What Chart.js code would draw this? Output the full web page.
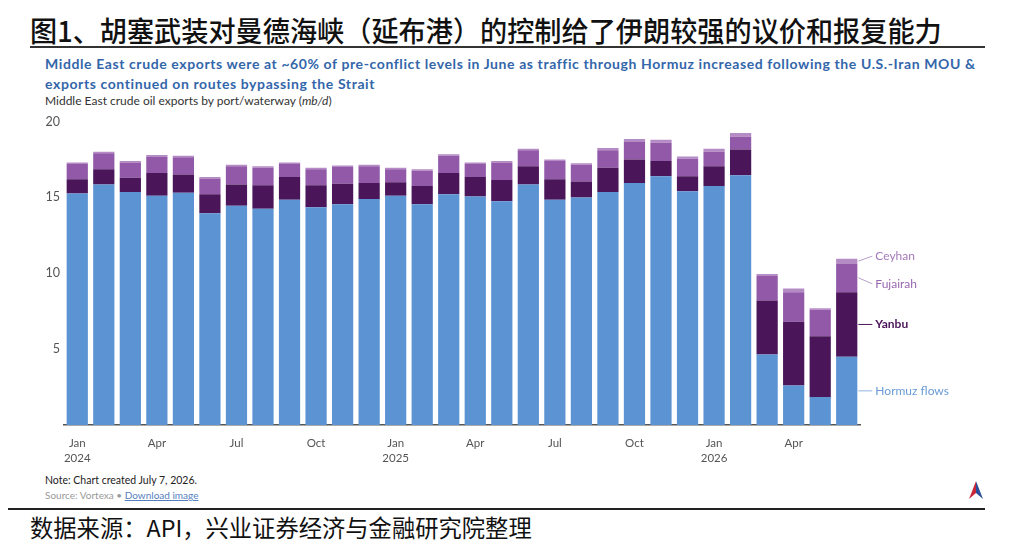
<!DOCTYPE html>
<html>
<head>
<meta charset="utf-8">
<script src="https://cdn.jsdelivr.net/npm/chart.js@4.4.1/dist/chart.umd.min.js"></script>
<style>
  html, body { margin:0; padding:0; background:#fff; }
  body { width:1024px; height:548px; position:relative; overflow:hidden; font-family: Lato, "Open Sans", sans-serif; }
  #title { position:absolute; left:30px; top:12px; font-family:"Noto Sans CJK SC"; font-size:28px; font-weight:500; color:#111; white-space:nowrap; line-height:36px; transform:scaleX(0.97); transform-origin:0 0; }
  #rule1 { position:absolute; left:30px; top:46px; width:955px; height:2px; background:#333; }
  #sub { position:absolute; left:45px; top:54px; font-family:Lato; font-weight:700; font-size:14px; letter-spacing:0.6px; line-height:20px; color:#3366AA; white-space:nowrap; }
  #ylab { position:absolute; left:45px; top:93px; font-family:Lato; font-size:12px; color:#333; white-space:nowrap; }
  #note { position:absolute; left:45px; top:474px; font-family:Lato; font-size:10.5px; color:#222; white-space:nowrap; }
  #src { position:absolute; left:45px; top:489px; font-family:Lato; font-size:10px; color:#999; white-space:nowrap; }
  #src a { color:#5580C0; text-decoration:underline; }
  #rule2 { position:absolute; left:8px; top:508px; width:977px; height:2px; background:#222; }
  #foot { position:absolute; left:30px; top:512px; font-family:"Noto Sans CJK SC"; font-size:23.3px; color:#111; white-space:nowrap; line-height:30px; }
  #wrap { position:absolute; left:20px; top:110px; width:960px; height:360px; }
  #logo { position:absolute; left:968px; top:480px; }
</style>
</head>
<body>
<div id="title">图1、胡塞武装对曼德海峡（延布港）的控制给了伊朗较强的议价和报复能力</div>
<div id="rule1"></div>
<div id="sub">Middle East crude exports were at ~60% of pre-conflict levels in June as traffic through Hormuz increased following the U.S.-Iran MOU &amp;<br>exports continued on routes bypassing the Strait</div>
<div id="ylab">Middle East crude oil exports by port/waterway (<i>mb/d</i>)</div>
<div id="wrap"><canvas id="c"></canvas></div>
<div id="note">Note: Chart created July 7, 2026.</div>
<div id="src">Source: Vortexa • <a>Download image</a></div>
<svg id="logo" width="16" height="20" viewBox="0 0 16 20"><polygon points="8,1 15,19 8,13" fill="#2A4E9A"/><polygon points="8,1 8,13 1,19" fill="#C8283A"/></svg>
<div id="rule2"></div>
<div id="foot">数据来源：API，兴业证券经济与金融研究院整理</div>
<script>
const months = ["Jan","Feb","Mar","Apr","May","Jun","Jul","Aug","Sep","Oct","Nov","Dec"];
const years = ["2024","2025","2026"];
const categories = [];
for (let y = 0; y < years.length; y++) for (let m = 0; m < 12; m++) if (!(y === 2 && m > 5)) categories.push(months[m] + " " + years[y]);

const hormuz   = [15.25,15.85,15.35,15.1,15.3,13.95,14.45,14.25,14.85,14.35,14.55,14.9,15.1,14.55,15.2,15.05,14.75,15.85,14.85,15.0,15.35,15.95,16.4,15.4,15.75,16.45,4.65,2.6,1.85,4.5];
const yanbu    = [0.95,1.0,0.95,1.5,1.2,1.25,1.4,1.55,1.5,1.45,1.35,1.05,0.9,1.2,1.4,1.3,1.4,1.2,1.35,1.05,1.6,1.55,1.0,1.0,1.3,1.7,3.55,4.2,4.0,4.25];
const fujairah = [1.0,1.05,1.0,1.1,1.15,1.05,1.2,1.15,0.85,1.05,1.1,1.1,0.85,1.0,1.15,0.85,1.15,1.05,1.2,1.1,1.15,1.15,1.2,1.15,0.95,0.85,1.65,1.95,1.75,1.9];
const ceyhan   = [0.1,0.1,0.1,0.1,0.1,0.1,0.1,0.1,0.1,0.1,0.1,0.1,0.1,0.1,0.1,0.1,0.1,0.1,0.1,0.1,0.15,0.2,0.2,0.15,0.2,0.25,0.1,0.25,0.1,0.3];
const seriesNames = ["Hormuz flows","Yanbu","Fujairah","Ceyhan"];
const yTicks = [5,10,15,20];

const colors = ["#5B93D3","#4A1559","#9259A9","#B58BC6"];
const labelColors = ["#6A9BD6","#4A1559","#9A68B0","#A57ABA"];

const endLabels = {
  id: "endLabels",
  afterDatasetsDraw(chart) {
    const ctx = chart.ctx;
    const n = categories.length - 1;
    const offsets = [0, 0, 6, -5];
    ctx.save();
    for (let d = 0; d < 4; d++) {
      const el = chart.getDatasetMeta(d).data[n];
      const mid = (el.y + el.base) / 2;
      const x0 = el.x + el.width / 2 + 1;
      const x1 = x0 + 14;
      const ly = mid + offsets[d];
      ctx.strokeStyle = d === 1 ? "#4A1559" : (d === 0 ? "#8FB5E2" : "#B9A0C8");
      ctx.lineWidth = 1;
      ctx.beginPath(); ctx.moveTo(x0, mid); ctx.lineTo(x1, ly); ctx.stroke();
      ctx.fillStyle = labelColors[d];
      ctx.font = (d === 1 ? "bold " : "") + "12px Lato";
      ctx.textBaseline = "middle";
      ctx.fillText(seriesNames[d], x1 + 3, ly);
    }
    ctx.restore();
  }
};

new Chart(document.getElementById("c"), {
  type: "bar",
  data: {
    labels: categories,
    datasets: [hormuz, yanbu, fujairah, ceyhan].map((v, i) => ({
      label: seriesNames[i], data: v, backgroundColor: colors[i], borderWidth: 0,
      barPercentage: 0.8, categoryPercentage: 1.0
    }))
  },
  options: {
    responsive: true, maintainAspectRatio: false, animation: false,
    layout: { padding: { top: 11, right: 120, left: 0, bottom: 0 } },
    plugins: { legend: { display: false }, tooltip: { enabled: false } },
    scales: {
      x: {
        stacked: true,
        grid: { display: false },
        border: { display: true, color: "#555", width: 1.5 },
        afterFit(s) { s.height = 45; },
        ticks: {
          autoSkip: false, maxRotation: 0, padding: 3, color: "#555",
          font: { family: "Lato", size: 11.5, lineHeight: 1.3 },
          callback(v, i) {
            const m = i % 12;
            if (m % 3 !== 0) return "";
            return m === 0 ? [months[m], years[Math.floor(i / 12)]] : months[m];
          }
        }
      },
      y: {
        stacked: true, min: 0, max: 20,
        grid: { display: false, drawTicks: false },
        border: { display: false },
        afterFit(s) { s.width = 44; },
        afterBuildTicks(s) { s.ticks = yTicks.map(v => ({ value: v })); },
        ticks: { padding: 4, color: "#555", font: { family: "Lato", size: 12.5 } }
      }
    }
  },
  plugins: [endLabels]
});
</script>
</body>
</html>
